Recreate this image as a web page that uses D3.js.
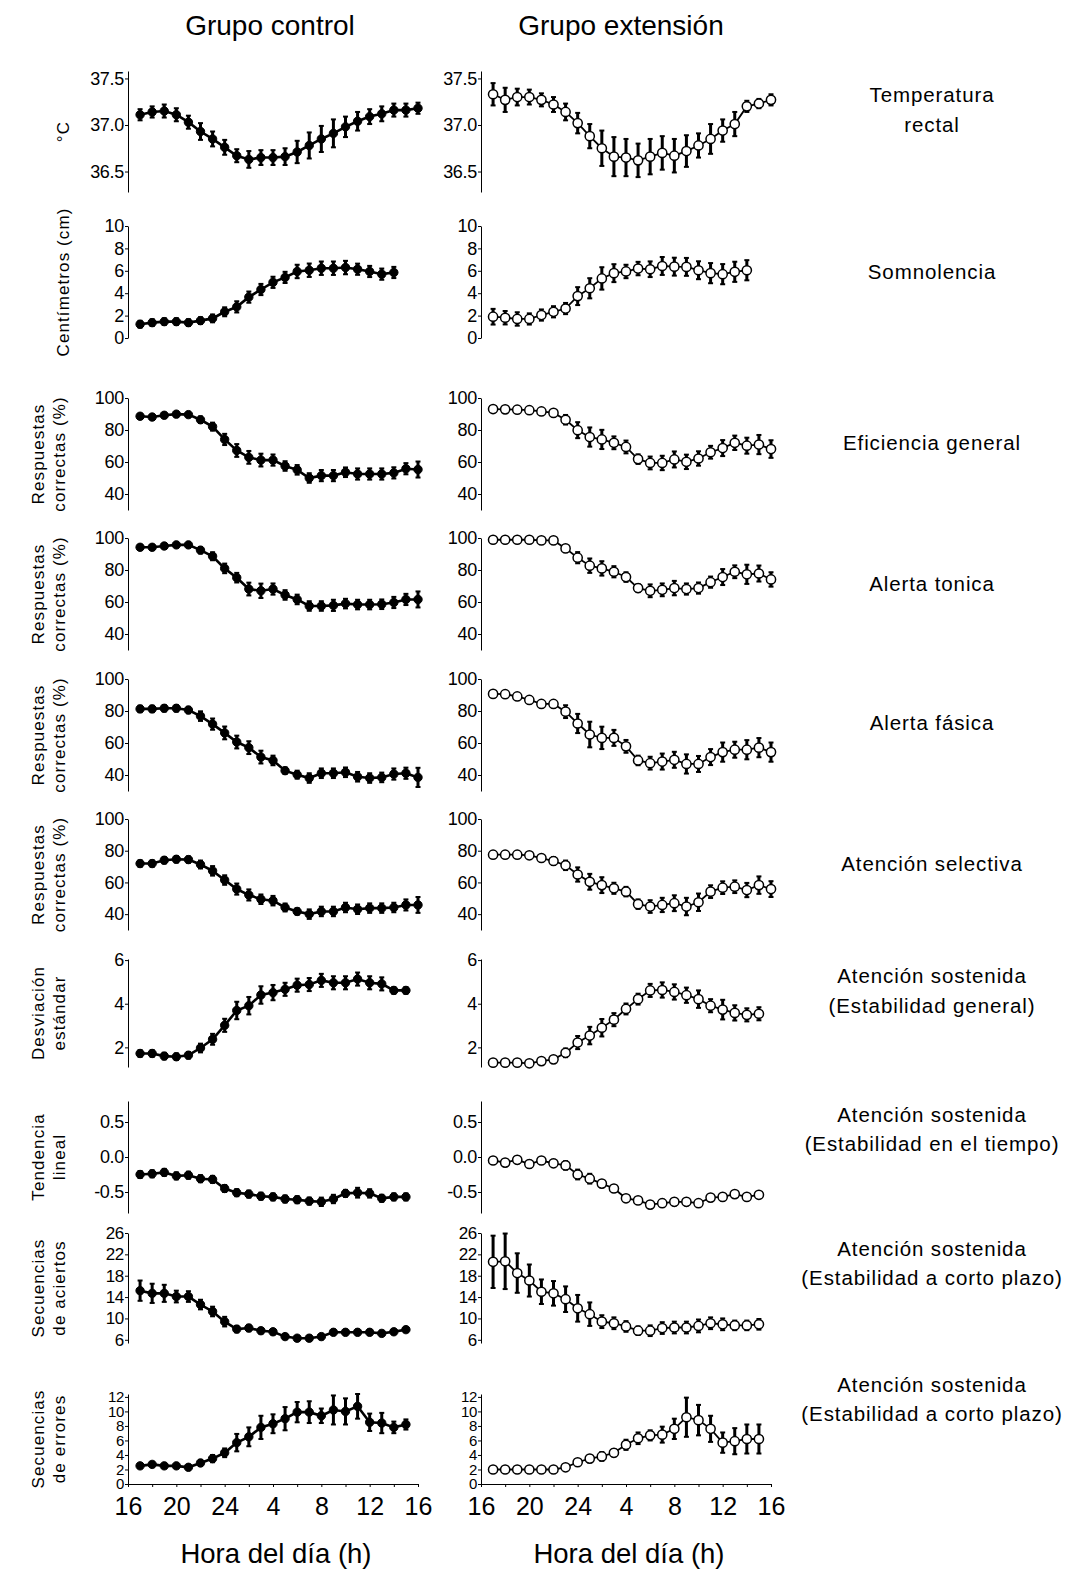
<!DOCTYPE html>
<html>
<head>
<meta charset="utf-8">
<script src="https://cdn.jsdelivr.net/npm/d3@7"></script>
<style>
  body { margin: 0; background: #fff; }
  text { font-family: "Liberation Sans", Arial, sans-serif; fill: #000; }
</style>
</head>
<body>
<svg id="fig" width="1076" height="1570"></svg>
<script>
// ---- Hours of day (16 = 16:00, 40 = 16:00 next day) ----
const hours17to40 = [17,18,19,20,21,22,23,24,25,26,27,28,29,30,31,32,33,34,35,36,37,38,39,40];
const hours17to39 = [17,18,19,20,21,22,23,24,25,26,27,28,29,30,31,32,33,34,35,36,37,38,39];
const hours17to38 = [17,18,19,20,21,22,23,24,25,26,27,28,29,30,31,32,33,34,35,36,37,38];
const xTickHours = [16,18,20,22,24,26,28,30,32,34,36,38,40];
const xTickLabels = ["16","","20","","24","","4","","8","","12","","16"];

const groupTitles = ["Grupo control", "Grupo extensión"];
const xTitle = "Hora del día (h)";

// ---- Temperatura rectal (°C) ----
const tempControl    = [37.11,37.14,37.15,37.11,37.03,36.93,36.85,36.76,36.67,36.63,36.65,36.65,36.66,36.71,36.78,36.85,36.91,36.98,37.04,37.09,37.12,37.16,37.16,37.18];
const tempControlErr = [0.06,0.06,0.07,0.07,0.07,0.09,0.08,0.08,0.07,0.09,0.08,0.08,0.09,0.12,0.14,0.14,0.15,0.11,0.10,0.08,0.08,0.07,0.07,0.06];
const tempExt        = [37.33,37.27,37.30,37.30,37.27,37.22,37.14,37.02,36.88,36.75,36.66,36.65,36.62,36.66,36.70,36.67,36.72,36.78,36.85,36.94,37.01,37.20,37.23,37.27];
const tempExtErr     = [0.12,0.13,0.09,0.08,0.07,0.08,0.09,0.11,0.13,0.19,0.21,0.20,0.18,0.19,0.18,0.18,0.17,0.13,0.16,0.12,0.13,0.06,0.05,0.06];

// ---- Somnolencia (cm) ----
const somnControl    = [1.23,1.37,1.46,1.46,1.37,1.55,1.75,2.34,2.78,3.65,4.33,4.97,5.41,5.94,6.05,6.23,6.23,6.29,6.14,5.94,5.70,5.85];
const somnControlErr = [0.3,0.3,0.3,0.3,0.3,0.3,0.35,0.4,0.5,0.5,0.5,0.5,0.5,0.6,0.6,0.6,0.6,0.6,0.5,0.5,0.5,0.5];
const somnExt        = [1.90,1.81,1.70,1.70,2.05,2.34,2.63,3.74,4.44,5.32,5.79,5.94,6.20,6.14,6.43,6.37,6.35,6.05,5.79,5.70,5.91,6.05];
const somnExtErr     = [0.7,0.6,0.6,0.5,0.5,0.5,0.5,0.8,0.9,1.0,0.8,0.6,0.6,0.7,0.8,0.8,0.8,0.8,0.9,0.9,0.9,0.9];

// ---- Eficiencia general (% correctas) ----
const eficControl    = [88.6,88.1,89.2,89.9,89.6,86.4,82.1,74.1,67.2,62.9,61.2,61.2,57.5,55.1,50.0,51.5,51.5,53.6,52.5,52.5,52.5,53.2,55.8,55.3];
const eficControlErr = [1.5,1.5,1.5,1.5,1.5,2,2.5,3.5,4,4,4,3.5,3,3,3,3.5,3.5,3,3.5,3.5,3.5,3.5,3.5,5];
const eficExt        = [93.1,92.9,92.7,92.4,91.6,90.7,86.4,79.9,75.6,74.1,72.0,69.4,61.8,59.4,59.4,61.6,60.1,62.2,66.1,68.7,72.0,70.2,70.9,68.1];
const eficExtErr     = [1.5,1.5,1.5,1.5,1.5,1.5,3,5,6,6,4,4,3,4,4.5,5,4.5,4.5,4,5,4.5,5,6,5.5];

// ---- Alerta tónica ----
const tonicaControl    = [94.2,94.2,95.0,95.7,95.7,92.4,88.6,81.0,75.2,68.1,67.0,68.1,64.4,61.6,57.5,57.5,57.9,59.0,58.4,58.4,58.6,59.7,61.6,61.6];
const tonicaControlErr = [1.5,1.5,1.5,1.5,1.5,2,2.5,3,3,4,4.5,3.5,3,3,3,3,3.5,3,3,3,3,3.5,3.5,5];
const tonicaExt        = [98.9,98.9,98.9,98.9,98.5,98.5,93.5,87.7,82.7,81.0,78.9,75.6,68.7,67.0,67.6,68.7,68.1,68.7,72.4,75.6,78.9,77.3,77.8,74.1];
const tonicaExtErr     = [1,1,1,1,1,1,1.5,3.5,4.5,4.5,3.5,3,2.5,4,4,4.5,3.5,3.5,3.5,5,4,6,5,4.5];

// ---- Alerta fásica ----
const fasicaControl    = [81.3,81.3,81.7,81.7,80.6,76.8,71.8,66.3,60.6,57.1,51.2,49.1,42.7,40.2,38.1,41.1,41.1,41.7,38.9,38.1,38.5,40.6,41.1,38.5];
const fasicaControlErr = [2,2,2,2,2,3,3.5,4,4,4,4,3,2,2.5,3,3,3,3,3,3,3,3.5,3.5,6];
const fasicaExt        = [90.7,90.5,89.1,86.9,84.4,84.4,79.6,72.2,65.3,63.2,63.2,57.9,49.1,47.4,48.4,49.5,46.9,46.9,51.2,54.3,55.8,55.8,57.1,54.3];
const fasicaExtErr     = [1.5,1.5,1.5,2,2,2,4,6,8,7,5,4,3,4,5,5,6,5,5,6,5,6,6,6];

// ---- Atención selectiva ----
const selControl    = [71.9,71.9,74.0,74.6,74.4,71.3,67.3,61.5,55.8,52.1,49.4,48.5,44.2,41.7,40.0,41.7,41.7,44.2,43.1,43.8,43.8,44.2,45.8,45.8];
const selControlErr = [2,2,2,2,2,2.5,3,3,3.5,3.5,3,3,2.5,2,3,3,3,3,3,3,3,3,3.5,5];
const selExt        = [77.5,77.5,77.5,77.1,75.4,73.5,70.8,65.0,60.4,58.3,56.3,54.2,46.3,44.8,45.8,46.9,44.8,47.5,54.2,56.7,57.3,55.2,58.3,55.8];
const selExtErr     = [2,2,2,2,2,2.5,3,4.5,5,5,3.5,3,3,4,4.5,5,5.5,5.5,4,4,4,4.5,5.5,5];

// ---- Atención sostenida: estabilidad general (desviación estándar) ----
const desvControl    = [1.72,1.72,1.60,1.57,1.64,1.97,2.37,3.01,3.69,3.91,4.40,4.51,4.66,4.85,4.88,5.07,4.96,4.96,5.13,4.96,4.91,4.61,4.61];
const desvControlErr = [0.15,0.15,0.15,0.15,0.15,0.2,0.25,0.3,0.4,0.4,0.4,0.35,0.3,0.3,0.3,0.3,0.3,0.3,0.3,0.3,0.3,0.15,0.15];
const desvExt        = [1.30,1.30,1.30,1.27,1.37,1.45,1.75,2.22,2.54,2.90,3.27,3.76,4.21,4.61,4.63,4.54,4.39,4.21,3.91,3.73,3.58,3.49,3.54];
const desvExtErr     = [0.08,0.08,0.08,0.08,0.1,0.1,0.2,0.3,0.4,0.4,0.3,0.25,0.25,0.3,0.35,0.35,0.35,0.4,0.3,0.45,0.35,0.3,0.3];

// ---- Atención sostenida: estabilidad en el tiempo (tendencia lineal) ----
const tendControl    = [-0.25,-0.24,-0.22,-0.27,-0.26,-0.31,-0.32,-0.45,-0.51,-0.53,-0.56,-0.57,-0.60,-0.61,-0.63,-0.64,-0.60,-0.52,-0.51,-0.52,-0.59,-0.57,-0.57];
const tendControlErr = [0.05,0.05,0.05,0.05,0.05,0.05,0.05,0.05,0.05,0.05,0.05,0.05,0.05,0.05,0.05,0.06,0.06,0.05,0.07,0.06,0.05,0.05,0.05];
const tendExt        = [-0.05,-0.08,-0.04,-0.10,-0.05,-0.09,-0.12,-0.25,-0.31,-0.38,-0.45,-0.59,-0.62,-0.68,-0.66,-0.64,-0.64,-0.66,-0.58,-0.57,-0.53,-0.57,-0.54];
const tendExtErr     = [0.05,0.05,0.05,0.05,0.04,0.05,0.06,0.07,0.07,0.05,0.05,0.04,0.04,0.05,0.05,0.05,0.05,0.04,0.04,0.05,0.04,0.03,0.03];

// ---- Atención sostenida: secuencias de aciertos ----
const aciControl    = [15.2,14.7,14.7,14.1,14.1,12.6,11.3,9.4,8.0,8.2,7.7,7.5,6.6,6.3,6.3,6.6,7.4,7.4,7.4,7.4,7.2,7.5,7.9];
const aciControlErr = [1.9,1.8,1.6,1.1,1.0,0.9,0.9,0.9,0.6,0.6,0.5,0.5,0.4,0.4,0.5,0.5,0.5,0.5,0.5,0.5,0.5,0.4,0.4];
const aciExt        = [20.6,20.7,18.5,17.1,15.0,14.7,13.6,11.9,10.8,9.4,9.1,8.5,7.7,7.7,8.2,8.3,8.3,8.6,9.1,8.9,8.7,8.7,8.9];
const aciExtErr     = [4.9,5.2,3.7,3.0,2.3,2.3,2.4,2.5,2.2,1.2,1.1,1.0,0.8,1.0,1.1,1.1,1.1,1.2,1.1,1.1,0.9,0.9,1.0];

// ---- Atención sostenida: secuencias de errores ----
const errControl    = [2.5,2.7,2.5,2.5,2.3,2.9,3.5,4.3,5.7,6.5,7.8,8.3,9.0,9.9,9.9,9.4,10.2,10.0,10.7,8.5,8.4,7.8,8.2];
const errControlErr = [0.3,0.3,0.3,0.3,0.3,0.4,0.5,0.6,1.2,1.3,1.6,1.3,1.6,1.4,1.5,1.0,2.0,1.8,1.7,1.2,1.4,0.8,0.7];
const errExt        = [2.0,2.0,2.0,2.0,2.0,2.0,2.3,3.0,3.5,3.8,4.3,5.4,6.3,6.7,6.8,7.6,9.2,8.8,7.6,5.7,5.9,6.2,6.2];
const errExtErr     = [0.2,0.2,0.2,0.2,0.2,0.2,0.3,0.4,0.5,0.6,0.5,0.7,0.8,0.7,1.1,1.4,2.7,2.1,1.8,1.4,1.8,2.0,2.0];

// ---- Panel rows: titles, y ticks and series ----
const fmt1 = v => d3.format(".1f")(v).replace("\u2212", "-");
const fmt0 = v => String(v);

const rows = [
  { yTitle: ["°C"], name: ["Temperatura", "rectal"], domain: [36.28, 37.58], ticks: [36.5, 37.0, 37.5], fmt: fmt1,
    hours: hours17to40, control: [tempControl, tempControlErr], ext: [tempExt, tempExtErr] },
  { yTitle: ["Centímetros (cm)"], name: ["Somnolencia"], domain: [0, 10], ticks: [0,2,4,6,8,10], fmt: fmt0,
    hours: hours17to38, control: [somnControl, somnControlErr], ext: [somnExt, somnExtErr] },
  { yTitle: ["Respuestas", "correctas (%)"], name: ["Eficiencia general"], domain: [30, 100], ticks: [40,60,80,100], fmt: fmt0,
    hours: hours17to40, control: [eficControl, eficControlErr], ext: [eficExt, eficExtErr] },
  { yTitle: ["Respuestas", "correctas (%)"], name: ["Alerta tonica"], domain: [30, 100], ticks: [40,60,80,100], fmt: fmt0,
    hours: hours17to40, control: [tonicaControl, tonicaControlErr], ext: [tonicaExt, tonicaExtErr] },
  { yTitle: ["Respuestas", "correctas (%)"], name: ["Alerta fásica"], domain: [30, 100], ticks: [40,60,80,100], fmt: fmt0,
    hours: hours17to40, control: [fasicaControl, fasicaControlErr], ext: [fasicaExt, fasicaExtErr] },
  { yTitle: ["Respuestas", "correctas (%)"], name: ["Atención selectiva"], domain: [30, 100], ticks: [40,60,80,100], fmt: fmt0,
    hours: hours17to40, control: [selControl, selControlErr], ext: [selExt, selExtErr] },
  { yTitle: ["Desviación", "estándar"], name: ["Atención sostenida", "(Estabilidad general)"], domain: [1.1, 6.05], ticks: [2,4,6], fmt: fmt0,
    hours: hours17to39, control: [desvControl, desvControlErr], ext: [desvExt, desvExtErr] },
  { yTitle: ["Tendencia", "lineal"], name: ["Atención sostenida", "(Estabilidad en el tiempo)"], domain: [-0.8, 0.8], ticks: [-0.5, 0, 0.5], fmt: fmt1,
    hours: hours17to39, control: [tendControl, tendControlErr], ext: [tendExt, tendExtErr] },
  { yTitle: ["Secuencias", "de aciertos"], name: ["Atención sostenida", "(Estabilidad a corto plazo)"], domain: [5.4, 26], ticks: [6,10,14,18,22,26], fmt: fmt0,
    hours: hours17to39, control: [aciControl, aciControlErr], ext: [aciExt, aciExtErr] },
  { yTitle: ["Secuencias", "de errores"], name: ["Atención sostenida", "(Estabilidad a corto plazo)"], domain: [0, 12.4], ticks: [0,2,4,6,8,10,12], fmt: fmt0,
    hours: hours17to39, control: [errControl, errControlErr], ext: [errExt, errExtErr] }
];

// ---- Layout ----
// vertical pixel extent of each row's plotting area [top, bottom]
const rowExtent = [
  [71, 192], [226, 338], [398, 510], [538, 650], [679, 791],
  [819, 930], [959, 1067], [1101, 1213], [1233, 1343], [1394, 1484]
];
// vertical centres of the measure names in the right margin
const nameCentres = [
  [95, 125], [272], [443], [584], [723], [864],
  [976, 1006], [1115, 1144], [1249, 1278], [1385, 1414]
];
// tick-label size per row (the densest row gets a slightly smaller size)
const tickFontSize = [18, 18, 18, 18, 18, 18, 18, 18, 17, 15];

const cols = [
  { x0: 128, x1: 418, key: "control", filled: true },
  { x0: 481, x1: 771, key: "ext", filled: false }
];

const svg = d3.select("#fig");

// Column titles
[[270, groupTitles[0]], [621, groupTitles[1]]].forEach(([cx, t]) => {
  svg.append("text").attr("x", cx).attr("y", 35).attr("text-anchor", "middle")
    .style("font-size", "28px").text(t);
});

rows.forEach((row, ri) => {
  const [top, bottom] = rowExtent[ri];
  const y = d3.scaleLinear().domain(row.domain).range([bottom, top]);
  const midY = (top + bottom) / 2;

  // y-axis title (rotated)
  const titleXs = row.yTitle.length === 1 ? [63] : [38, 59];
  row.yTitle.forEach((t, i) => {
    svg.append("text")
      .attr("transform", `translate(${titleXs[i] + 6},${midY}) rotate(-90)`)
      .attr("text-anchor", "middle")
      .style("font-size", "17px").style("letter-spacing", "1.1px")
      .text(t);
  });

  // measure name on the right
  row.name.forEach((t, i) => {
    svg.append("text").attr("x", 932).attr("y", nameCentres[ri][i] + 7)
      .attr("text-anchor", "middle")
      .style("font-size", "20.5px").style("letter-spacing", "0.9px")
      .text(t);
  });

  cols.forEach(col => {
    const x = d3.scaleLinear().domain([16, 40]).range([col.x0, col.x1]);
    const g = svg.append("g");
    const [vals, errs] = row[col.key];
    const pts = row.hours.map((h, i) => ({ h, v: vals[i], e: errs[i] }));

    // y axis
    const ax = g.append("g").attr("transform", `translate(${col.x0},0)`)
      .call(d3.axisLeft(y).tickValues(row.ticks).tickFormat(row.fmt)
        .tickSize(3).tickSizeOuter(0).tickPadding(1));
    ax.selectAll("text").style("font-size", tickFontSize[ri] + "px")
      .style("font-family", '"Liberation Sans", Arial, sans-serif')
      .attr("fill", "#000").style("letter-spacing", "-0.3px");
    ax.selectAll("path,line").attr("stroke", "#000").attr("stroke-width", 1);

    // bottom time axis on the last row
    if (ri === rows.length - 1) {
      const bx = g.append("g").attr("transform", `translate(0,${bottom})`)
        .call(d3.axisBottom(x).tickValues(xTickHours)
          .tickFormat((d, i) => xTickLabels[i]).tickSize(3).tickSizeOuter(0).tickPadding(10));
      bx.selectAll("text").style("font-size", "25px")
        .style("font-family", '"Liberation Sans", Arial, sans-serif').attr("fill", "#000");
      bx.selectAll("path,line").attr("stroke", "#000").attr("stroke-width", 1);
      svg.append("text").attr("x", (col.x0 + col.x1) / 2 + 3).attr("y", 1563)
        .attr("text-anchor", "middle").style("font-size", "27.5px").text(xTitle);
    }

    // connecting line
    g.append("path").datum(pts)
      .attr("fill", "none").attr("stroke", "#000")
      .attr("stroke-width", col.filled ? 2.6 : 1.8)
      .attr("d", d3.line().x(d => x(d.h)).y(d => y(d.v)));

    // error bars with caps
    const eb = g.append("g").selectAll("g").data(pts).join("g");
    eb.append("line")
      .attr("x1", d => x(d.h)).attr("x2", d => x(d.h))
      .attr("y1", d => y(d.v - d.e)).attr("y2", d => y(d.v + d.e))
      .attr("stroke", "#000").attr("stroke-width", 3);
    [d => d.v - d.e, d => d.v + d.e].forEach(f => {
      eb.append("line")
        .attr("x1", d => x(d.h) - 2.5).attr("x2", d => x(d.h) + 2.5)
        .attr("y1", d => y(f(d))).attr("y2", d => y(f(d)))
        .attr("stroke", "#000").attr("stroke-width", 2);
    });

    // markers
    g.append("g").selectAll("circle").data(pts).join("circle")
      .attr("cx", d => x(d.h)).attr("cy", d => y(d.v))
      .attr("r", col.filled ? 4.2 : 4.6)
      .attr("fill", col.filled ? "#000" : "#fff")
      .attr("stroke", "#000").attr("stroke-width", col.filled ? 1 : 1.5);
  });
});
</script>
</body>
</html>
